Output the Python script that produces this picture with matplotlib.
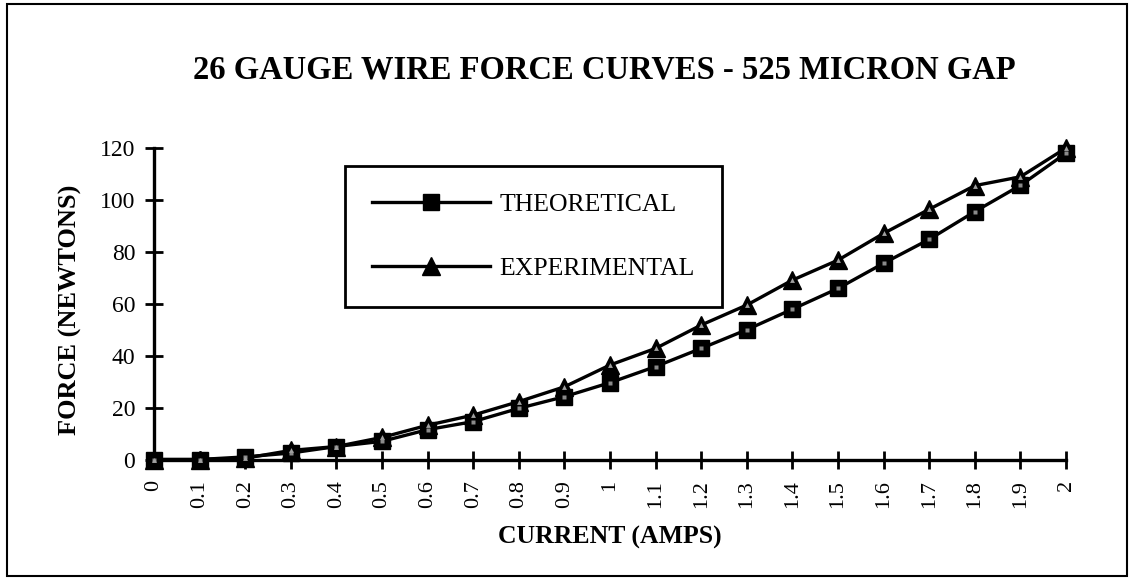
import matplotlib
matplotlib.use("Agg")
import matplotlib.pyplot as plt
from matplotlib.lines import Line2D
from matplotlib.patches import Rectangle

# ---- data ----
current = [0, 0.1, 0.2, 0.3, 0.4, 0.5, 0.6, 0.7, 0.8, 0.9, 1.0,
           1.1, 1.2, 1.3, 1.4, 1.5, 1.6, 1.7, 1.8, 1.9, 2.0]
theoretical = [0, 0, 1, 2.5, 5, 7, 11.5, 14.6, 19.7, 24.2, 29.6,
               35.8, 42.8, 50.0, 57.9, 65.9, 75.6, 84.8, 95.5, 105.6, 118]
experimental = [0, 0, 0.5, 3.5, 5, 8.5, 13.2, 17.1, 22.3, 28.0, 36.4,
                42.8, 51.8, 59.5, 69.1, 76.8, 87.1, 96.4, 105.5, 108.9, 120]
x_tick_labels = ["0", "0.1", "0.2", "0.3", "0.4", "0.5", "0.6", "0.7", "0.8", "0.9", "1",
                 "1.1", "1.2", "1.3", "1.4", "1.5", "1.6", "1.7", "1.8", "1.9", "2"]
y_ticks = [0, 20, 40, 60, 80, 100, 120]
series_labels = ["THEORETICAL", "EXPERIMENTAL"]
title = "26 GAUGE WIRE FORCE CURVES - 525 MICRON GAP"
xlabel = "CURRENT (AMPS)"
ylabel = "FORCE (NEWTONS)"

plt.rcParams['font.family'] = ['Liberation Serif', 'DejaVu Serif']

W, H = 1131, 579
fig = plt.figure(figsize=(W / 100, H / 100), dpi=100)
ax = fig.add_axes([154 / W, 1 - 459.5 / H, (1066 - 154) / W, (459.5 - 148) / H])

lw = 2.4
ax.plot(current, theoretical, color='black', lw=lw, marker='s', ms=11.5,
        mfc='black', mec='black', clip_on=False, zorder=3)
ax.plot(current, experimental, color='black', lw=lw, marker='^', ms=13,
        mfc='black', mec='black', clip_on=False, zorder=4)
# light speckle inside markers
ax.plot(current, theoretical, ls='none', marker='s', ms=3.5, mfc='#8a8a8a',
        mec='none', clip_on=False, zorder=5)
ax.plot(current, experimental, ls='none', marker='^', ms=3.5, mfc='#a0a0a0',
        mec='none', clip_on=False, zorder=6)

ax.set_xlim(0, 2)
ax.set_ylim(0, 120)
ax.set_xticks(current)
ax.set_xticklabels(x_tick_labels, rotation=90)
ax.set_yticks(y_ticks)
ax.set_yticklabels([str(v) for v in y_ticks])

for s in ['top', 'right']:
    ax.spines[s].set_visible(False)
for s in ['left', 'bottom']:
    ax.spines[s].set_linewidth(2.4)
    ax.spines[s].set_color('black')

ax.tick_params(axis='x', direction='inout', length=13, width=2, pad=8.5,
               labelsize=16)
ax.tick_params(axis='y', direction='inout', length=13, width=2, pad=7,
               labelsize=17)

ax.set_xlabel(xlabel, fontsize=18.5, fontweight='bold')
ax.xaxis.set_label_coords(0.5, (459.5 - 537) / 311.5, transform=ax.transAxes)
ax.xaxis.label.set_va('center')
ax.set_ylabel(ylabel, fontsize=19, fontweight='bold')
ax.yaxis.set_label_coords((70 - 154) / 912, (459.5 - 310) / 311.5, transform=ax.transAxes)
ax.yaxis.label.set_va('center')

fig.text(604 / W, 1 - 70 / H, title, ha='center', va='center',
         fontsize=23.5, fontweight='bold')

handles = [
    Line2D([], [], color='black', lw=lw, marker='s', ms=11.5, mfc='black', mec='black'),
    Line2D([], [], color='black', lw=lw, marker='^', ms=13, mfc='black', mec='black'),
]
leg = ax.legend(handles, series_labels, loc='upper left',
                bbox_to_anchor=((345 - 154) / 912, (459.5 - 166) / 311.5),
                frameon=True, fancybox=False, shadow=False, fontsize=18.5,
                borderpad=1.05, labelspacing=1.6, handlelength=4.6,
                handletextpad=0.35, borderaxespad=0, framealpha=1)
leg.get_frame().set_edgecolor('black')
leg.get_frame().set_linewidth(2)

# outer frame
fig.patches.append(Rectangle((7 / W, 3 / H), (1127 - 7) / W, (575 - 3) / H,
                             transform=fig.transFigure, fill=False,
                             edgecolor='black', lw=1.5))

fig.savefig("out.png", dpi=100)
